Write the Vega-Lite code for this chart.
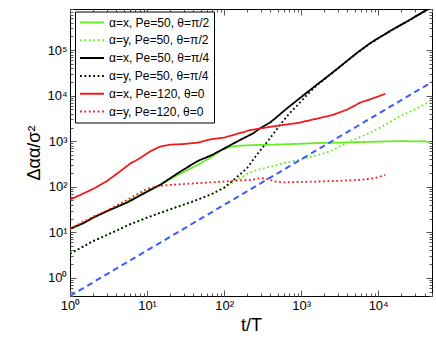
{
  "$schema": "https://vega.github.io/schema/vega-lite/v6.json",
  "width": 362,
  "height": 287,
  "autosize": {"type": "none"},
  "padding": {"left": 70, "top": 9, "right": 4, "bottom": 44},
  "config": {
    "view": {"stroke": "#000", "strokeWidth": 1},
    "font": "Liberation Sans",
    "axis": {"grid": false, "domain": false, "tickColor": "#555", "labelColor": "#000", "titleColor": "#000", "labelFont": "Liberation Sans", "titleFont": "Liberation Sans", "titleFontWeight": "normal"}
  },
  "datasets": {
    "curves": [
      {"s": "α=x, Pe=50, θ=π/2", "t": 1, "v": 11.5}, {"s": "α=x, Pe=50, θ=π/2", "t": 1.5, "v": 16}, {"s": "α=x, Pe=50, θ=π/2", "t": 2, "v": 21}, {"s": "α=x, Pe=50, θ=π/2", "t": 3, "v": 29}, {"s": "α=x, Pe=50, θ=π/2", "t": 5, "v": 43}, {"s": "α=x, Pe=50, θ=π/2", "t": 7, "v": 58}, {"s": "α=x, Pe=50, θ=π/2", "t": 10, "v": 80}, {"s": "α=x, Pe=50, θ=π/2", "t": 15, "v": 110}, {"s": "α=x, Pe=50, θ=π/2", "t": 20, "v": 148}, {"s": "α=x, Pe=50, θ=π/2", "t": 27, "v": 195}, {"s": "α=x, Pe=50, θ=π/2", "t": 45, "v": 300}, {"s": "α=x, Pe=50, θ=π/2", "t": 70, "v": 460}, {"s": "α=x, Pe=50, θ=π/2", "t": 89, "v": 620}, {"s": "α=x, Pe=50, θ=π/2", "t": 110, "v": 720}, {"s": "α=x, Pe=50, θ=π/2", "t": 130, "v": 770}, {"s": "α=x, Pe=50, θ=π/2", "t": 160, "v": 800}, {"s": "α=x, Pe=50, θ=π/2", "t": 250, "v": 825}, {"s": "α=x, Pe=50, θ=π/2", "t": 400, "v": 840}, {"s": "α=x, Pe=50, θ=π/2", "t": 700, "v": 865}, {"s": "α=x, Pe=50, θ=π/2", "t": 1000, "v": 880}, {"s": "α=x, Pe=50, θ=π/2", "t": 1770, "v": 915}, {"s": "α=x, Pe=50, θ=π/2", "t": 3000, "v": 930}, {"s": "α=x, Pe=50, θ=π/2", "t": 5000, "v": 950}, {"s": "α=x, Pe=50, θ=π/2", "t": 10000, "v": 980}, {"s": "α=x, Pe=50, θ=π/2", "t": 20000, "v": 1010}, {"s": "α=x, Pe=50, θ=π/2", "t": 30000, "v": 990}, {"s": "α=x, Pe=50, θ=π/2", "t": 40000, "v": 1000}, {"s": "α=x, Pe=50, θ=π/2", "t": 47000, "v": 950},

      {"s": "α=y, Pe=50, θ=π/2", "t": 1, "v": 3.5}, {"s": "α=y, Pe=50, θ=π/2", "t": 1.5, "v": 5}, {"s": "α=y, Pe=50, θ=π/2", "t": 2, "v": 6.5}, {"s": "α=y, Pe=50, θ=π/2", "t": 3.6, "v": 10}, {"s": "α=y, Pe=50, θ=π/2", "t": 6, "v": 15}, {"s": "α=y, Pe=50, θ=π/2", "t": 10, "v": 21}, {"s": "α=y, Pe=50, θ=π/2", "t": 15, "v": 27}, {"s": "α=y, Pe=50, θ=π/2", "t": 20, "v": 32}, {"s": "α=y, Pe=50, θ=π/2", "t": 40, "v": 48}, {"s": "α=y, Pe=50, θ=π/2", "t": 70, "v": 70}, {"s": "α=y, Pe=50, θ=π/2", "t": 100, "v": 95}, {"s": "α=y, Pe=50, θ=π/2", "t": 145, "v": 140}, {"s": "α=y, Pe=50, θ=π/2", "t": 200, "v": 190}, {"s": "α=y, Pe=50, θ=π/2", "t": 240, "v": 220}, {"s": "α=y, Pe=50, θ=π/2", "t": 400, "v": 280}, {"s": "α=y, Pe=50, θ=π/2", "t": 650, "v": 340}, {"s": "α=y, Pe=50, θ=π/2", "t": 1000, "v": 400}, {"s": "α=y, Pe=50, θ=π/2", "t": 1770, "v": 510}, {"s": "α=y, Pe=50, θ=π/2", "t": 2400, "v": 600}, {"s": "α=y, Pe=50, θ=π/2", "t": 4300, "v": 1000}, {"s": "α=y, Pe=50, θ=π/2", "t": 7000, "v": 1400}, {"s": "α=y, Pe=50, θ=π/2", "t": 10700, "v": 2000}, {"s": "α=y, Pe=50, θ=π/2", "t": 19000, "v": 3500}, {"s": "α=y, Pe=50, θ=π/2", "t": 30000, "v": 5000}, {"s": "α=y, Pe=50, θ=π/2", "t": 47000, "v": 7400},

      {"s": "α=x, Pe=50, θ=π/4", "t": 1, "v": 12}, {"s": "α=x, Pe=50, θ=π/4", "t": 1.5, "v": 16}, {"s": "α=x, Pe=50, θ=π/4", "t": 2, "v": 21}, {"s": "α=x, Pe=50, θ=π/4", "t": 3, "v": 29}, {"s": "α=x, Pe=50, θ=π/4", "t": 5.5, "v": 45}, {"s": "α=x, Pe=50, θ=π/4", "t": 10, "v": 78}, {"s": "α=x, Pe=50, θ=π/4", "t": 15, "v": 112}, {"s": "α=x, Pe=50, θ=π/4", "t": 27, "v": 215}, {"s": "α=x, Pe=50, θ=π/4", "t": 45, "v": 365}, {"s": "α=x, Pe=50, θ=π/4", "t": 70, "v": 500}, {"s": "α=x, Pe=50, θ=π/4", "t": 100, "v": 690}, {"s": "α=x, Pe=50, θ=π/4", "t": 150, "v": 1000}, {"s": "α=x, Pe=50, θ=π/4", "t": 240, "v": 1500}, {"s": "α=x, Pe=50, θ=π/4", "t": 290, "v": 1900}, {"s": "α=x, Pe=50, θ=π/4", "t": 400, "v": 2600}, {"s": "α=x, Pe=50, θ=π/4", "t": 650, "v": 5200}, {"s": "α=x, Pe=50, θ=π/4", "t": 1000, "v": 9300}, {"s": "α=x, Pe=50, θ=π/4", "t": 1600, "v": 17500}, {"s": "α=x, Pe=50, θ=π/4", "t": 1950, "v": 22500}, {"s": "α=x, Pe=50, θ=π/4", "t": 3000, "v": 40000}, {"s": "α=x, Pe=50, θ=π/4", "t": 5300, "v": 87000}, {"s": "α=x, Pe=50, θ=π/4", "t": 8000, "v": 145000}, {"s": "α=x, Pe=50, θ=π/4", "t": 14400, "v": 265000}, {"s": "α=x, Pe=50, θ=π/4", "t": 25000, "v": 450000}, {"s": "α=x, Pe=50, θ=π/4", "t": 43000, "v": 770000}, {"s": "α=x, Pe=50, θ=π/4", "t": 47000, "v": 800000},

      {"s": "α=y, Pe=50, θ=π/4", "t": 1, "v": 3.4}, {"s": "α=y, Pe=50, θ=π/4", "t": 1.5, "v": 4.9}, {"s": "α=y, Pe=50, θ=π/4", "t": 2, "v": 6.4}, {"s": "α=y, Pe=50, θ=π/4", "t": 3.6, "v": 10}, {"s": "α=y, Pe=50, θ=π/4", "t": 6, "v": 15}, {"s": "α=y, Pe=50, θ=π/4", "t": 10, "v": 21}, {"s": "α=y, Pe=50, θ=π/4", "t": 15, "v": 27}, {"s": "α=y, Pe=50, θ=π/4", "t": 20, "v": 32}, {"s": "α=y, Pe=50, θ=π/4", "t": 40, "v": 48}, {"s": "α=y, Pe=50, θ=π/4", "t": 70, "v": 70}, {"s": "α=y, Pe=50, θ=π/4", "t": 100, "v": 95}, {"s": "α=y, Pe=50, θ=π/4", "t": 145, "v": 160}, {"s": "α=y, Pe=50, θ=π/4", "t": 200, "v": 260}, {"s": "α=y, Pe=50, θ=π/4", "t": 240, "v": 400}, {"s": "α=y, Pe=50, θ=π/4", "t": 300, "v": 650}, {"s": "α=y, Pe=50, θ=π/4", "t": 400, "v": 1200}, {"s": "α=y, Pe=50, θ=π/4", "t": 650, "v": 3500}, {"s": "α=y, Pe=50, θ=π/4", "t": 1000, "v": 7500}, {"s": "α=y, Pe=50, θ=π/4", "t": 1200, "v": 10500}, {"s": "α=y, Pe=50, θ=π/4", "t": 1600, "v": 17000}, {"s": "α=y, Pe=50, θ=π/4", "t": 1950, "v": 22000}, {"s": "α=y, Pe=50, θ=π/4", "t": 3000, "v": 39500}, {"s": "α=y, Pe=50, θ=π/4", "t": 5300, "v": 86000}, {"s": "α=y, Pe=50, θ=π/4", "t": 8000, "v": 143000}, {"s": "α=y, Pe=50, θ=π/4", "t": 14400, "v": 262000}, {"s": "α=y, Pe=50, θ=π/4", "t": 25000, "v": 445000}, {"s": "α=y, Pe=50, θ=π/4", "t": 43000, "v": 765000},

      {"s": "α=x, Pe=120, θ=0", "t": 1, "v": 52}, {"s": "α=x, Pe=120, θ=0", "t": 2, "v": 90}, {"s": "α=x, Pe=120, θ=0", "t": 3, "v": 133}, {"s": "α=x, Pe=120, θ=0", "t": 4.5, "v": 220}, {"s": "α=x, Pe=120, θ=0", "t": 6, "v": 320}, {"s": "α=x, Pe=120, θ=0", "t": 8, "v": 420}, {"s": "α=x, Pe=120, θ=0", "t": 11, "v": 600}, {"s": "α=x, Pe=120, θ=0", "t": 14.7, "v": 760}, {"s": "α=x, Pe=120, θ=0", "t": 20, "v": 840}, {"s": "α=x, Pe=120, θ=0", "t": 30, "v": 870}, {"s": "α=x, Pe=120, θ=0", "t": 45, "v": 930}, {"s": "α=x, Pe=120, θ=0", "t": 66, "v": 1100}, {"s": "α=x, Pe=120, θ=0", "t": 100, "v": 1200}, {"s": "α=x, Pe=120, θ=0", "t": 218, "v": 1750}, {"s": "α=x, Pe=120, θ=0", "t": 320, "v": 1950}, {"s": "α=x, Pe=120, θ=0", "t": 600, "v": 2300}, {"s": "α=x, Pe=120, θ=0", "t": 890, "v": 2500}, {"s": "α=x, Pe=120, θ=0", "t": 1770, "v": 3250}, {"s": "α=x, Pe=120, θ=0", "t": 2600, "v": 3800}, {"s": "α=x, Pe=120, θ=0", "t": 4000, "v": 5000}, {"s": "α=x, Pe=120, θ=0", "t": 5800, "v": 7000}, {"s": "α=x, Pe=120, θ=0", "t": 9000, "v": 9000}, {"s": "α=x, Pe=120, θ=0", "t": 12400, "v": 11000},

      {"s": "α=y, Pe=120, θ=0", "t": 1, "v": 12}, {"s": "α=y, Pe=120, θ=0", "t": 2, "v": 22}, {"s": "α=y, Pe=120, θ=0", "t": 3, "v": 30}, {"s": "α=y, Pe=120, θ=0", "t": 5, "v": 47}, {"s": "α=y, Pe=120, θ=0", "t": 7, "v": 65}, {"s": "α=y, Pe=120, θ=0", "t": 10, "v": 90}, {"s": "α=y, Pe=120, θ=0", "t": 15, "v": 105}, {"s": "α=y, Pe=120, θ=0", "t": 20, "v": 110}, {"s": "α=y, Pe=120, θ=0", "t": 45, "v": 120}, {"s": "α=y, Pe=120, θ=0", "t": 100, "v": 130}, {"s": "α=y, Pe=120, θ=0", "t": 150, "v": 138}, {"s": "α=y, Pe=120, θ=0", "t": 218, "v": 140}, {"s": "α=y, Pe=120, θ=0", "t": 300, "v": 155}, {"s": "α=y, Pe=120, θ=0", "t": 350, "v": 150}, {"s": "α=y, Pe=120, θ=0", "t": 450, "v": 132}, {"s": "α=y, Pe=120, θ=0", "t": 580, "v": 125}, {"s": "α=y, Pe=120, θ=0", "t": 1000, "v": 128}, {"s": "α=y, Pe=120, θ=0", "t": 1600, "v": 130}, {"s": "α=y, Pe=120, θ=0", "t": 3000, "v": 135}, {"s": "α=y, Pe=120, θ=0", "t": 5800, "v": 142}, {"s": "α=y, Pe=120, θ=0", "t": 9000, "v": 155}, {"s": "α=y, Pe=120, θ=0", "t": 12400, "v": 180}
    ],
    "ref": [{"t": 1, "v": 0.4}, {"t": 50000, "v": 20000}]
  },
  "layer": [
    {
      "data": {"name": "curves"},
      "mark": {"type": "line", "clip": true, "strokeWidth": 1.8},
      "encoding": {
        "x": {
          "field": "t", "type": "quantitative",
          "scale": {"type": "log", "domain": [1, 50000], "nice": false},
          "axis": {
            "orient": "bottom", "title": "t/T", "titleFontSize": 18, "titlePadding": 4,
            "labelFontSize": 13, "labelPadding": 9, "labelFlush": false,
            "values": [1,2,3,4,5,6,7,8,9,10,20,30,40,50,60,70,80,90,100,200,300,400,500,600,700,800,900,1000,2000,3000,4000,5000,6000,7000,8000,9000,10000,20000,30000,40000,50000],
            "labelExpr": "abs(log(datum.value)/LN10 - round(log(datum.value)/LN10)) < 1e-6 ? '10' + ['⁰','¹','²','³','⁴','⁵','⁶'][round(log(datum.value)/LN10)] : ''",
            "tickSize": {"condition": {"test": "abs(log(datum.value)/LN10 - round(log(datum.value)/LN10)) < 1e-6", "value": -6}, "value": -3}
          }
        },
        "y": {
          "field": "v", "type": "quantitative",
          "scale": {"type": "log", "domain": [0.4, 800000], "nice": false},
          "axis": {
            "orient": "left", "title": "Δαα/σ²", "titleFontSize": 18, "titlePadding": 3,
            "labelFontSize": 13, "labelPadding": 9, "labelFlush": false,
            "values": [0.4,0.5,0.6,0.7,0.8,0.9,1,2,3,4,5,6,7,8,9,10,20,30,40,50,60,70,80,90,100,200,300,400,500,600,700,800,900,1000,2000,3000,4000,5000,6000,7000,8000,9000,10000,20000,30000,40000,50000,60000,70000,80000,90000,100000,200000,300000,400000,500000,600000,700000,800000],
            "labelExpr": "abs(log(datum.value)/LN10 - round(log(datum.value)/LN10)) < 1e-6 ? '10' + ['⁰','¹','²','³','⁴','⁵','⁶'][round(log(datum.value)/LN10)] : ''",
            "tickSize": {"condition": {"test": "abs(log(datum.value)/LN10 - round(log(datum.value)/LN10)) < 1e-6", "value": -6}, "value": -3}
          }
        },
        "color": {
          "field": "s", "type": "nominal",
          "scale": {
            "domain": ["α=x, Pe=50, θ=π/2", "α=y, Pe=50, θ=π/2", "α=x, Pe=50, θ=π/4", "α=y, Pe=50, θ=π/4", "α=x, Pe=120, θ=0", "α=y, Pe=120, θ=0"],
            "range": ["#66ee22", "#66ee22", "#000000", "#000000", "#ee1c1c", "#ee1c1c"]
          },
          "legend": {
            "orient": "none", "legendX": 5, "legendY": 2.5, "title": null,
            "strokeColor": "#000", "fillColor": "#fff", "padding": 4,
            "symbolType": "stroke", "symbolSize": 576, "symbolStrokeWidth": 2,
            "clipHeight": 14,
            "labelFont": "Liberation Sans", "labelFontSize": 12, "labelColor": "#000",
            "labelOffset": 4, "rowPadding": 3.8, "cornerRadius": 0, "labelLimit": 200
          }
        },
        "strokeDash": {
          "field": "s", "type": "nominal",
          "scale": {
            "domain": ["α=x, Pe=50, θ=π/2", "α=y, Pe=50, θ=π/2", "α=x, Pe=50, θ=π/4", "α=y, Pe=50, θ=π/4", "α=x, Pe=120, θ=0", "α=y, Pe=120, θ=0"],
            "range": [[1, 0], [1.8, 2.6], [1, 0], [1.8, 2.6], [1, 0], [1.8, 2.6]]
          }
        }
      }
    },
    {
      "data": {"name": "ref"},
      "mark": {"type": "line", "clip": true, "color": "#3a5cff", "strokeWidth": 2, "strokeDash": [6, 4]},
      "encoding": {
        "x": {
          "field": "t", "type": "quantitative",
          "scale": {"type": "log", "domain": [1, 50000], "nice": false},
          "axis": {
            "orient": "top", "title": null, "labels": false,
            "values": [1,2,3,4,5,6,7,8,9,10,20,30,40,50,60,70,80,90,100,200,300,400,500,600,700,800,900,1000,2000,3000,4000,5000,6000,7000,8000,9000,10000,20000,30000,40000,50000],
            "tickSize": {"condition": {"test": "abs(log(datum.value)/LN10 - round(log(datum.value)/LN10)) < 1e-6", "value": -6}, "value": -3}
          }
        },
        "y": {
          "field": "v", "type": "quantitative",
          "scale": {"type": "log", "domain": [0.4, 800000], "nice": false},
          "axis": {
            "orient": "right", "title": null, "labels": false,
            "values": [0.4,0.5,0.6,0.7,0.8,0.9,1,2,3,4,5,6,7,8,9,10,20,30,40,50,60,70,80,90,100,200,300,400,500,600,700,800,900,1000,2000,3000,4000,5000,6000,7000,8000,9000,10000,20000,30000,40000,50000,60000,70000,80000,90000,100000,200000,300000,400000,500000,600000,700000,800000],
            "tickSize": {"condition": {"test": "abs(log(datum.value)/LN10 - round(log(datum.value)/LN10)) < 1e-6", "value": -6}, "value": -3}
          }
        }
      }
    }
  ],
  "resolve": {"axis": {"x": "independent", "y": "independent"}}
}
